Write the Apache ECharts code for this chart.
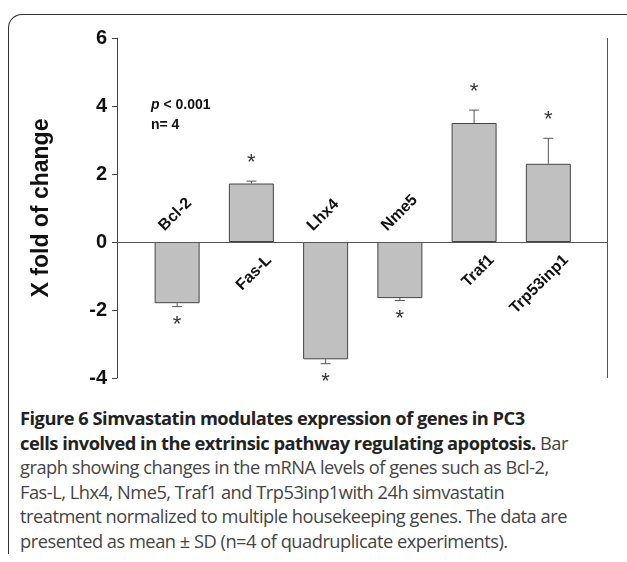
<!DOCTYPE html>
<html><head><meta charset="utf-8">
<script src="https://cdn.jsdelivr.net/npm/echarts@6/dist/echarts.min.js"></script>
<style>
body{margin:0;background:#fff;width:627px;height:562px;position:relative;overflow:hidden}
#frame{position:absolute;left:8px;top:14px;right:0;bottom:8px;border-left:1.5px solid #333;border-top:1.5px solid #333;border-top-left-radius:14px}
#chart{position:absolute;left:0;top:0;width:627px;height:400px}
#cap{position:absolute;left:20px;top:406px;width:610px;white-space:nowrap;font-family:"Open Sans",sans-serif;font-size:18.3px;line-height:24.6px;color:#444;letter-spacing:-0.5px}
#cap b{color:#222}
</style></head>
<body>
<div id="frame"></div>
<div id="chart"></div>
<div id="cap"><b>Figure 6 Simvastatin modulates expression of genes in PC3<br>cells involved in the extrinsic pathway regulating apoptosis.</b> Bar<br>graph showing changes in the mRNA levels of genes such as Bcl-2,<br>Fas-L, Lhx4, Nme5, Traf1 and Trp53inp1with 24h simvastatin<br>treatment normalized to multiple housekeeping genes. The data are<br>presented as mean ± SD (n=4 of quadruplicate experiments).</div>
<script>
const genes = ['Bcl-2', 'Fas-L', 'Lhx4', 'Nme5', 'Traf1', 'Trp53inp1'];
const values = [-1.8, 1.72, -3.45, -1.65, 3.5, 2.3];
const errors = [0.1, 0.07, 0.13, 0.07, 0.38, 0.75];
const yTicks = [-4, -2, 0, 2, 4, 6];

const chart = echarts.init(document.getElementById('chart'));
const font = 'Arial, "Liberation Sans", sans-serif';

chart.setOption({
  animation: false,
  grid: { left: 117, right: 20, top: 38, height: 340 },
  title: [
    { text: '{i|p} < 0.001\nn= 4', left: 146, top: 90,
      textStyle: { fontFamily: font, fontSize: 14, fontWeight: 'bold', color: '#111', lineHeight: 20,
        rich: { i: { fontStyle: 'italic', fontWeight: 'bold', fontSize: 14, fontFamily: font } } } }
  ],
  xAxis: { type: 'value', min: -0.81, max: 5.79, show: false },
  yAxis: {
    type: 'value', min: -4, max: 6, interval: 2,
    name: 'X fold of change', nameLocation: 'middle', nameGap: 64,
    nameTextStyle: { fontFamily: font, fontSize: 23, fontWeight: 'bold', color: '#111' },
    axisLine: { show: true, onZero: false, lineStyle: { color: '#444', width: 1 } },
    axisTick: { show: true, length: 5, lineStyle: { color: '#444' } },
    axisLabel: { fontFamily: font, fontSize: 20, fontWeight: 'bold', color: '#111', margin: 10,
      formatter: v => yTicks.includes(v) ? String(v) : '' },
    splitLine: { show: false }
  },
  series: [
    {
      type: 'bar', barWidth: 45,
      data: values.map((v, i) => [i, v]),
      itemStyle: { color: '#c0c0c0', borderColor: '#444', borderWidth: 1 },
      markLine: {
        silent: true, symbol: 'none', label: { show: false },
        lineStyle: { color: '#555', width: 1, type: 'solid' },
        data: [{ yAxis: 0 }, { xAxis: 5.79 }]
      }
    },
    {
      type: 'custom',
      data: values.map((v, i) => [i, v, errors[i]]),
      renderItem: (params, api) => {
        const x = api.value(0), v = api.value(1), e = api.value(2);
        const end = v >= 0 ? v + e : v - e;
        const p0 = api.coord([x, v]), p1 = api.coord([x, end]);
        const dir = v >= 0 ? -1 : 1;
        return { type: 'group', children: [
          { type: 'line', shape: { x1: p0[0], y1: p0[1], x2: p1[0], y2: p1[1] }, style: { stroke: '#555', lineWidth: 1 } },
          { type: 'line', shape: { x1: p1[0] - 5, y1: p1[1], x2: p1[0] + 5, y2: p1[1] }, style: { stroke: '#555', lineWidth: 1 } },
          { type: 'text', style: { x: p1[0], y: p1[1] + dir * 18, text: '*', fill: '#333',
              font: '22px ' + font, align: 'center', verticalAlign: 'middle' } }
        ] };
      }
    },
    {
      type: 'custom',
      data: values.map((v, i) => [i, v]),
      renderItem: (params, api) => {
        const i = api.value(0), v = api.value(1);
        const p = api.coord([i, 0]);
        const neg = v < 0;
        return { type: 'text', x: neg ? p[0] - 10 : p[0] + 12, y: neg ? p[1] - 8 : p[1] + 10,
          rotation: Math.PI / 4,
          style: { text: genes[params.dataIndex], fill: '#111', font: 'bold 16px ' + font,
            align: neg ? 'left' : 'right', verticalAlign: neg ? 'bottom' : 'top' } };
      }
    }
  ]
});
</script>
</body></html>
